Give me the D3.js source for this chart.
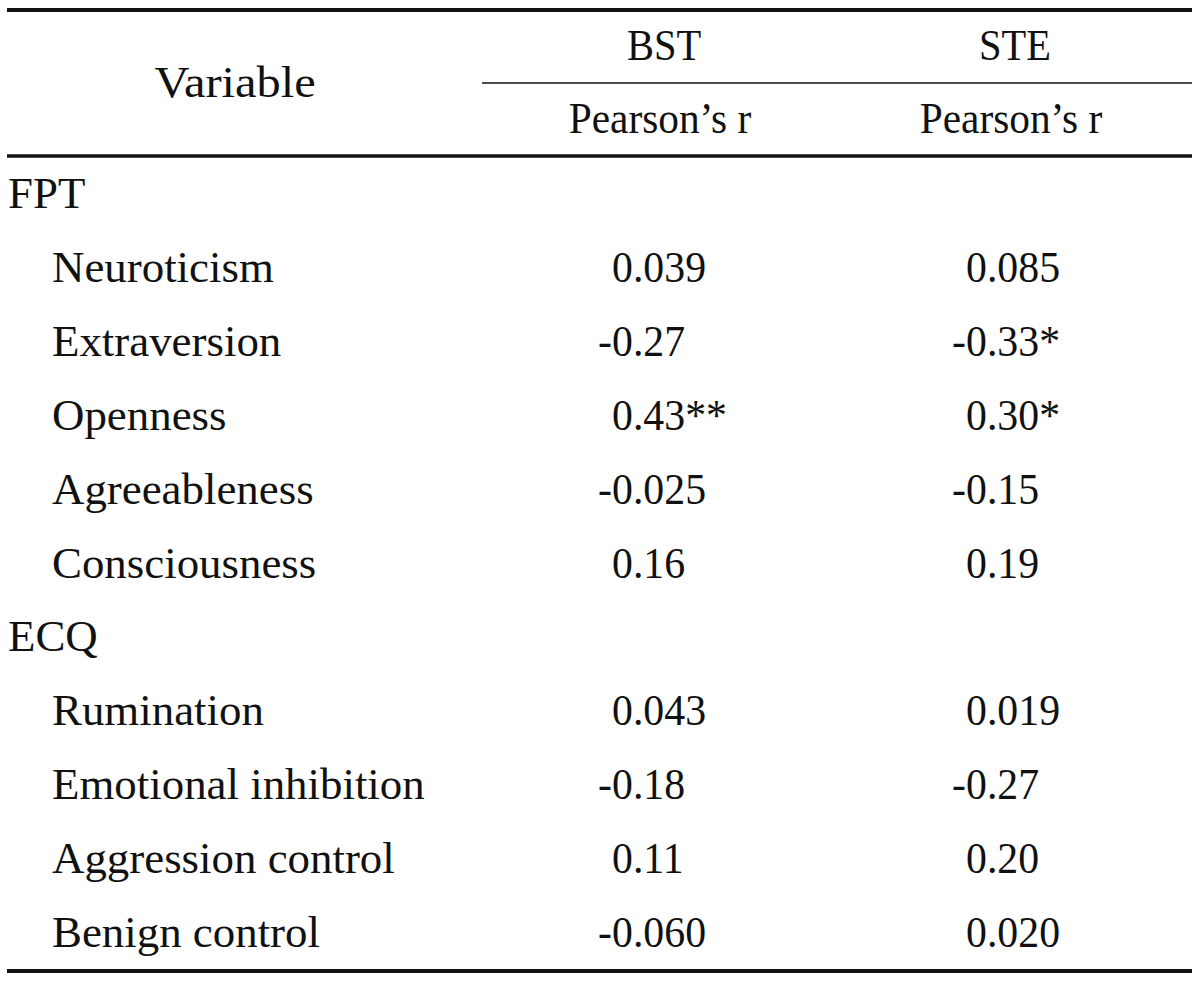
<!DOCTYPE html>
<html>
<head>
<meta charset="utf-8">
<script src="https://cdn.jsdelivr.net/npm/d3@7"></script>
<style>
  html, body { margin: 0; padding: 0; background: #fff; }
  svg { display: block; }
  text { font-family: "Liberation Serif", "Times New Roman", serif; fill: #111; }
</style>
</head>
<body>
<svg id="chart" width="1200" height="982"></svg>
<script>
// ---- data ----
const headerVariable = "Variable";
const columnGroups = ["BST", "STE"];
const columnStat = "Pearson\u2019s r";
const rowLabels = ["FPT", "Neuroticism", "Extraversion", "Openness", "Agreeableness", "Consciousness",
                   "ECQ", "Rumination", "Emotional inhibition", "Aggression control", "Benign control"];
const rowIsGroup = [true, false, false, false, false, false, true, false, false, false, false];
const bstValues = ["", "0.039", "-0.27", "0.43**", "-0.025", "0.16", "", "0.043", "-0.18", "0.11", "-0.060"];
const steValues = ["", "0.085", "-0.33*", "0.30*", "-0.15", "0.19", "", "0.019", "-0.27", "0.20", "0.020"];

// ---- layout ----
const svg = d3.select("#chart");
const fs = 44;
const yRow = d3.scaleLinear().domain([0, rowLabels.length - 1]).range([208, 947]);
const colX = d3.scaleOrdinal().domain(columnGroups).range([612, 966]);      // start of leading "0"
const colCenter = d3.scaleOrdinal().domain(columnGroups).range([664, 1015]); // header centres
const numScale = 0.95;

// rules
const rules = [
  { x1: 7, x2: 1192, y: 10, w: 4 },
  { x1: 482, x2: 1192, y: 83, w: 1.6 },
  { x1: 7, x2: 1192, y: 156, w: 3.5 },
  { x1: 7, x2: 1192, y: 971, w: 4 }
];
svg.selectAll("line.rule").data(rules).join("line")
  .attr("class", "rule")
  .attr("x1", d => d.x1).attr("x2", d => d.x2)
  .attr("y1", d => d.y).attr("y2", d => d.y)
  .attr("stroke", "#111").attr("stroke-width", d => d.w);

// header
svg.append("text")
  .attr("transform", `translate(235,97) scale(1.1,1)`)
  .attr("text-anchor", "middle").attr("font-size", fs)
  .text(headerVariable);

svg.selectAll("text.grp").data(columnGroups).join("text")
  .attr("class", "grp")
  .attr("transform", d => `translate(${colCenter(d)},60) scale(0.92,1)`)
  .attr("text-anchor", "middle").attr("font-size", fs)
  .text(d => d);

svg.selectAll("text.stat").data(columnGroups).join("text")
  .attr("class", "stat")
  .attr("transform", d => `translate(${colCenter(d) - 4},133) scale(0.94,1)`)
  .attr("text-anchor", "middle").attr("font-size", fs)
  .text(columnStat);

// row labels
svg.selectAll("text.row").data(rowLabels).join("text")
  .attr("class", "row")
  .attr("transform", (d, i) => `translate(${rowIsGroup[i] ? 8 : 52},${yRow(i)}) scale(1.02,1)`)
  .attr("font-size", fs)
  .text(d => d);

// values
function drawColumn(col, values) {
  const g = svg.append("g");
  values.forEach((v, i) => {
    if (!v) return;
    const neg = v.startsWith("-");
    const body = neg ? v.slice(1) : v;
    const x0 = colX(col);
    const y = yRow(i);
    if (neg) {
      g.append("text")
        .attr("transform", `translate(${x0},${y}) scale(${numScale},1)`)
        .attr("text-anchor", "end").attr("font-size", fs)
        .text("-");
    }
    g.append("text")
      .attr("transform", `translate(${x0},${y}) scale(${numScale},1)`)
      .attr("font-size", fs)
      .text(body);
  });
}
drawColumn("BST", bstValues);
drawColumn("STE", steValues);
</script>
</body>
</html>
